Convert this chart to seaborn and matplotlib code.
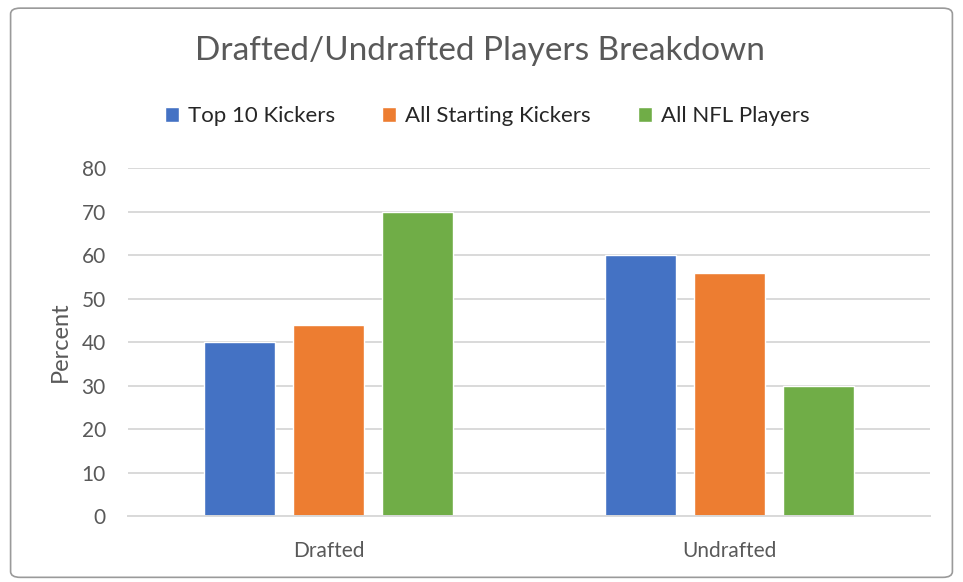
import pandas as pd
import seaborn as sns
import matplotlib.pyplot as plt
from matplotlib.patches import FancyBboxPatch

# data
groups = ["Drafted", "Undrafted"]
series = ["Top 10 Kickers", "All Starting Kickers", "All NFL Players"]
top10 = [40, 60]
all_starting = [44, 56]
all_nfl = [70, 30]
colors = ["#4472C4", "#ED7D31", "#70AD47"]

rows = []
for name, vals in zip(series, [top10, all_starting, all_nfl]):
    for g, v in zip(groups, vals):
        rows.append({"group": g, "series": name, "value": v})
df = pd.DataFrame(rows)

sns.set_theme(style="white")
plt.rcParams['font.family'] = ['Lato', 'DejaVu Sans']
grey = "#595959"

fig = plt.figure(figsize=(9.63, 5.82), dpi=100)
ax = fig.add_axes([0.133, 0.1134, 0.833, 0.5976])

sns.barplot(data=df, x="group", y="value", hue="series", order=groups,
            hue_order=series, palette=colors, width=0.666, gap=0.2,
            saturation=1, ax=ax, legend=True)

ax.set_xlim(-0.5, 1.5)
ax.set_ylim(0, 80)
ax.set_yticks(range(0, 81, 10))
ax.yaxis.grid(True, color="#d9d9d9", linewidth=1.4)
ax.set_axisbelow(True)
for s in ["top", "right", "left"]:
    ax.spines[s].set_visible(False)
ax.spines["bottom"].set_color("#d9d9d9")
ax.spines["bottom"].set_linewidth(1.4)
ax.tick_params(axis="both", length=0, labelsize=15, labelcolor=grey)
ax.tick_params(axis="y", pad=16)
ax.tick_params(axis="x", pad=18)
ax.set_xlabel("")
ax.set_ylabel("Percent", fontsize=17, color=grey, labelpad=8)

handles, labels = ax.get_legend_handles_labels()
ax.legend(handles, labels, loc="center", bbox_to_anchor=(0.506, 0.8),
          bbox_transform=fig.transFigure, ncol=3, frameon=False,
          fontsize=16, labelcolor="#262626", handlelength=0.65,
          handleheight=0.65, handletextpad=0.4, columnspacing=2.1)

fig.text(0.498, 0.912, "Drafted/Undrafted Players Breakdown", ha="center",
         va="center", fontsize=24, color=grey)

border = FancyBboxPatch((0.011, 0.008), 0.978, 0.978, transform=fig.transFigure,
                        boxstyle="round,pad=0,rounding_size=0.01",
                        facecolor="none", edgecolor="#9a9a9a", linewidth=1.2)
fig.patches.append(border)

fig.savefig("out.png", dpi=100)
